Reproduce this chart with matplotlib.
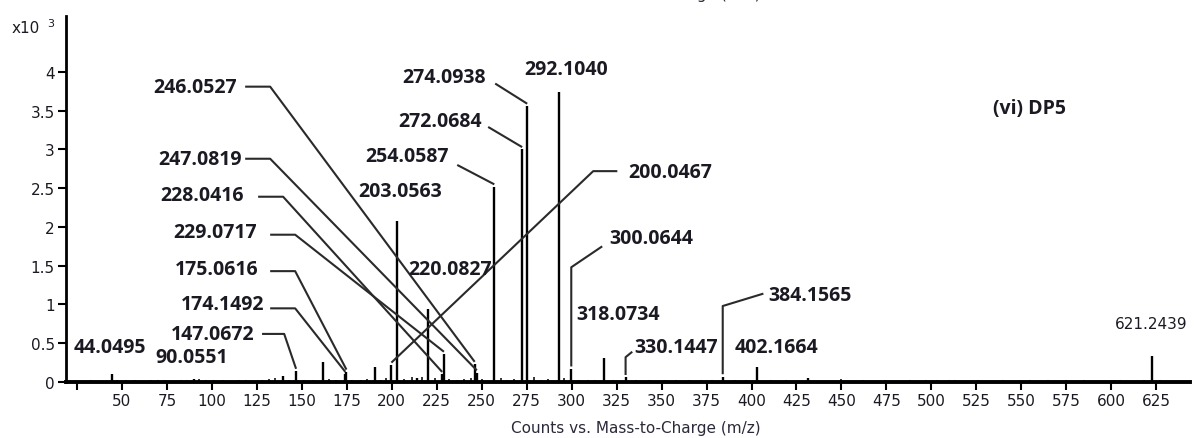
import numpy as np
import matplotlib
matplotlib.use("Agg")
from matplotlib import pyplot as plt

# ---- spectrum data (m/z, counts x10^3) ----
peak_mz = [44.5, 90.0, 139.6, 146.8, 161.8, 174.2, 174.8, 190.8, 199.8, 203.0,
           214.0, 220.1, 228.0, 229.0, 246.1, 247.3, 257.0, 272.5, 275.3, 293.1,
           299.8, 318.1, 330.0, 384.0, 403.0, 431.6, 622.4]
peak_h = [0.10, 0.04, 0.08, 0.14, 0.26, 0.10, 0.13, 0.19, 0.22, 2.08,
          0.05, 0.94, 0.10, 0.36, 0.23, 0.12, 2.52, 3.00, 3.56, 3.74,
          0.17, 0.31, 0.06, 0.07, 0.19, 0.05, 0.34]

noise_mz = [33, 38, 47, 52, 57, 61, 66, 70, 74, 78, 83, 86, 93, 97, 101, 106, 110,
            115, 119, 124, 128, 132, 135, 143, 151, 156, 165, 169, 178, 183, 186,
            194, 197, 207, 211, 217, 224, 232, 236, 240, 244, 250, 261, 264, 268,
            279, 283, 287, 296, 304, 309, 313, 323, 336, 343, 352, 358, 365, 372,
            378, 391, 397, 411, 419, 450, 462, 474, 488, 497, 503, 510, 513, 526,
            540, 555, 565, 575, 585, 602, 605, 618, 627]
noise_h = [0.02, 0.01, 0.02, 0.03, 0.02, 0.01, 0.02, 0.03, 0.02, 0.01, 0.02, 0.03,
           0.04, 0.03, 0.02, 0.02, 0.01, 0.02, 0.02, 0.01, 0.03, 0.04, 0.05, 0.03,
           0.02, 0.03, 0.04, 0.03, 0.03, 0.02, 0.04, 0.03, 0.05, 0.04, 0.06, 0.07,
           0.05, 0.04, 0.03, 0.04, 0.05, 0.04, 0.05, 0.03, 0.04, 0.06, 0.03, 0.04,
           0.05, 0.03, 0.02, 0.03, 0.02, 0.02, 0.03, 0.02, 0.02, 0.03, 0.02, 0.02,
           0.03, 0.02, 0.02, 0.03, 0.04, 0.02, 0.03, 0.02, 0.02, 0.03, 0.02, 0.03,
           0.02, 0.03, 0.02, 0.02, 0.03, 0.02, 0.03, 0.02, 0.02, 0.03]

# labels with leader lines, and the peak each one points to
ann_text = ['246.0527', '247.0819', '228.0416', '229.0717', '175.0616', '174.1492',
            '147.0672', '254.0587', '272.0684', '274.0938', '200.0467', '300.0644',
            '330.1447', '384.1565']
ann_peak = [14, 15, 12, 13, 6, 5, 3, 16, 17, 18, 8, 20, 22, 23]

plain_text = ['44.0495', '90.0551', '203.0563', '292.1040', '220.0827',
              '318.0734', '402.1664']

# ---- layout (data coordinates) ----
ann_pos = [(90.7, 3.81), (93.4, 2.88), (94.5, 2.41), (101.8, 1.94), (102.9, 1.46),
           (105.7, 1.01), (100.7, 0.62), (208.6, 2.92), (226.9, 3.37), (229.1, 3.94),
           (354.8, 2.71), (344.3, 1.86), (358.2, 0.45), (432.7, 1.12)]
leader = [[(118.5, 3.81), (132.4, 3.81)],
          [(118.5, 2.88), (132.4, 2.88)],
          [(125.7, 2.39), (139.6, 2.39)],
          [(132.4, 1.90), (146.3, 1.90)],
          [(132.4, 1.43), (146.3, 1.43)],
          [(132.4, 0.95), (146.3, 0.95)],
          [(127.9, 0.62), (140.2, 0.62)],
          [(236.4, 2.80)],
          [(253.6, 3.29)],
          [(257.5, 3.85)],
          [(325.4, 2.72), (312.0, 2.72)],
          [(317.0, 1.75), (None, 1.48)],
          [(333.7, 0.39), (None, 0.32)],
          [(406.6, 1.14), (None, 0.98)]]
plain_pos = [(43.4, 0.45), (89.0, 0.32), (204.7, 2.46), (297.0, 4.04), (232.5, 1.46),
             (326.0, 0.88), (413.8, 0.45)]

ink = '#1a1a22'
line_col = '#2a2a2a'

fig = plt.figure(figsize=(12, 4.39), dpi=100)
ax = fig.add_axes([0.055, 0.1276, 0.937, 0.8334])

ax.vlines(noise_mz, 0, noise_h, color='black', lw=1.1)
ax.vlines(peak_mz, 0, peak_h, color='black', lw=1.7)

bold_font = dict(family='Open Sans', weight='bold', size=14, color=ink)

for txt, pi, (tx, ty), pts in zip(ann_text, ann_peak, ann_pos, leader):
    px, ph = peak_mz[pi], peak_h[pi]
    ax.text(tx, ty, txt, ha='center', va='center', **bold_font)
    xs = [p[0] if p[0] is not None else px for p in pts] + [px]
    ys = [p[1] for p in pts] + [ph + 0.03]
    ax.plot(xs, ys, color=line_col, lw=1.5, solid_capstyle='butt')

for txt, (tx, ty) in zip(plain_text, plain_pos):
    ax.text(tx, ty, txt, ha='center', va='center', **bold_font)

# last peak label in the plain instrument font
ax.text(peak_mz[-1], 0.75, '621.2439', ha='center', va='center',
        fontsize=11, color=ink, family='DejaVu Sans')

ax.text(0.857, 0.75, '(vi) DP5', transform=ax.transAxes, ha='center', va='center',
        **bold_font)

ax.set_xlim(18.9, 644)
ax.set_ylim(0, 4.72)
ax.spines['top'].set_visible(False)
ax.spines['right'].set_visible(False)
ax.spines['left'].set_linewidth(2)
ax.spines['bottom'].set_linewidth(2.8)

xt = np.arange(25, 626, 25)
ax.set_xticks(xt)
ax.set_xticklabels([''] + [str(v) for v in xt[1:]])
yt = [0, 0.5, 1, 1.5, 2, 2.5, 3, 3.5, 4]
ax.set_yticks(yt)
ax.set_yticklabels(['0', '0.5', '1', '1.5', '2', '2.5', '3', '3.5', '4'])
ax.tick_params(axis='both', direction='out', length=6, width=1.5, pad=2,
               labelsize=11, colors='black', labelcolor=ink)

fig.text(0.01, 0.935, 'x10', fontsize=11, color=ink, ha='left', va='center')
fig.text(0.039, 0.945, '3', fontsize=8, color=ink, ha='left', va='center')

fig.text(0.53, 0.025, 'Counts vs. Mass-to-Charge (m/z)', fontsize=11, color='#2a2a3a',
         ha='center', va='center')
# title of the original panel, cut by the top edge as in the source figure
fig.text(0.53, 1.012, 'Counts vs. Mass-to-Charge (m/z)', fontsize=11, color='#2a2a3a',
         ha='center', va='center')

fig.savefig('out.png', dpi=100)
